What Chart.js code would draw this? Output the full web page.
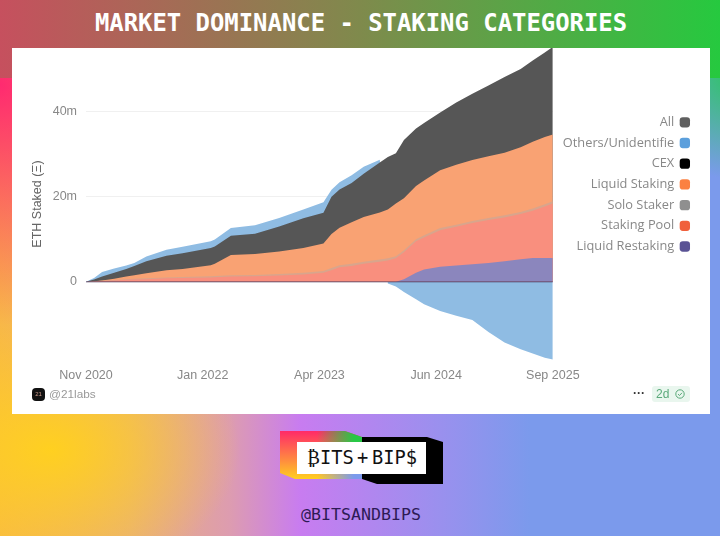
<!DOCTYPE html>
<html>
<head>
<meta charset="utf-8">
<title>Market Dominance - Staking Categories</title>
<script src="https://cdn.jsdelivr.net/npm/chart.js@4"></script>
<style>
html, body { margin: 0; padding: 0; }
body {
  position: relative; width: 720px; height: 536px; overflow: hidden;
  background:
    radial-gradient(circle at 740px 70px, #28c85a 0, rgba(40,200,90,0) 110px),
    radial-gradient(circle at 0 85px, #ff2a70 0, rgba(255,42,112,0) 240px),
    radial-gradient(ellipse 190px 130px at 50px 450px, #ffd020 0, rgba(255,208,32,0) 100%),
    linear-gradient(90deg, #f8b848 0, #eab078 130px, #dd9cb0 230px, #c87cf0 300px, #9a90ee 440px, #7b9aec 530px);
}
#band { position: absolute; left: 0; top: 0; width: 720px; height: 78px;
  background: linear-gradient(90deg, #c6505e 0, #7f8a4c 50%, #26c93f 100%); }
#title { position: absolute; left: 0; top: 9px; width: 722px; text-align: center; color: #fff;
  font: bold 23.9px "DejaVu Sans Mono", monospace; }
#card { position: absolute; left: 12px; top: 48px; width: 698px; height: 366px; background: #fff; }
#pie { position: absolute; left: 0; top: 0; }
#src { position: absolute; left: 37px; top: 339px; font: 11.8px "Liberation Sans", sans-serif; color: #999; }
#srcicon { position: absolute; left: 20px; top: 340px; width: 13px; height: 13px; border-radius: 4px; background: #111;
  color: #c98; font: 6px "Liberation Sans", sans-serif; text-align: center; line-height: 13px; }
#dots { position: absolute; left: 621px; top: 338px; font: bold 12px "Liberation Sans", sans-serif; color: #333; }
#badge { position: absolute; left: 640px; top: 338px; width: 38px; height: 16px; border-radius: 3px; background: #e9f6ee;
  color: #5aa97a; font: 12px "Liberation Sans", sans-serif; line-height: 16px; text-indent: 4px; }
#badge svg { position: absolute; left: 23px; top: 3px; }
#logoleft { position: absolute; left: 280px; top: 431px; width: 82px; height: 48px;
  clip-path: polygon(0 0, 65px 0, 82px 6px, 82px 48px, 15px 48px, 0 42px);
  background:
    linear-gradient(90deg, rgba(40,200,70,0) 45%, #28c846 90%) 0 0 / 100% 12px no-repeat,
    linear-gradient(90deg, rgba(123,154,236,0) 45%, #7b9aec 90%) 0 100% / 100% 10px no-repeat,
    linear-gradient(180deg, #ff2a68 0, #ff8a40 60%, #ffd020 100%); }
#logoright { position: absolute; left: 362px; top: 437px; width: 81px; height: 47px; background: #000;
  clip-path: polygon(0 0, 65px 0, 81px 5px, 81px 47px, 15px 47px, 0 42px); }
#logobox { position: absolute; left: 297px; top: 442px; width: 129px; height: 32px; background: #fff;
  color: #111; font: 18.7px/32px "DejaVu Sans Mono", monospace; }
#logobox span { position: absolute; top: 0; }
#handle { position: absolute; left: 0; top: 505px; width: 722px; text-align: center; color: #2d1a55;
  font: 16.6px "DejaVu Sans Mono", monospace; }
</style>
</head>
<body>
<div id="band"></div>
<div id="title">MARKET DOMINANCE - STAKING CATEGORIES</div>
<div id="card">
  <div id="canvas-wrapper"></div>
  <div id="srcicon">21</div>
  <div id="src">@21labs</div>
  <div id="dots">···</div>
  <div id="badge">2d<svg width="10" height="10" viewBox="0 0 10 10"><circle cx="5" cy="5" r="4.2" fill="none" stroke="#5aa97a" stroke-width="1"/><path d="M3 5.1 L4.5 6.5 L7 3.8" fill="none" stroke="#5aa97a" stroke-width="1"/></svg></div>
</div>
<div id="logoleft"></div>
<div id="logoright"></div>
<div id="logobox"><span style="left:10px">₿ITS</span><span style="left:60px">+</span><span style="left:75px">BIP$</span></div>
<div id="handle">@BITSANDBIPS</div>
<script>
// months since Nov 2020, values in millions of ETH (top edge of each area)
const months = [0, 1, 2, 3.5, 5, 6, 7.5, 10, 12, 15.5, 16, 18, 21, 24, 27, 29.5, 30.5, 31.5, 33, 34.5, 36.5, 37.5, 38.5, 39.5, 41, 42, 44, 46, 48, 50, 52, 54, 55.5, 57, 58];
const allStaked = [0, 0.5, 1.2, 2.1, 3, 3.7, 4.8, 6.1, 6.7, 7.9, 8.3, 10.8, 11.3, 13, 14.9, 16.2, 20, 21.7, 23.2, 25.4, 28, 29.3, 30.2, 33.3, 36, 37.3, 39.8, 42.1, 44.2, 46.1, 48.1, 50, 52, 53.9, 55.2];
const others = [0, 0.9, 2.3, 3.1, 3.8, 4.4, 5.9, 7.5, 8.2, 9.5, 9.9, 12.6, 13.3, 15, 17, 18.7, 21.6, 23.4, 25, 27, 28.7, -0.4, -1.1, -2.4, -4.1, -5.3, -6.9, -8, -9, -11.8, -14.3, -15.9, -16.9, -17.9, -18.3];
const cex = [0, 0, 0, 0, 0, 0, 0, 0, 0, 0, 0, 0, 0, 0, 0, 0, 0, 0, 0, 0, 0, 0, 0, 0, 0, 0, 0, 0, 0, 0, 0, 0, 0, 0, 0];
const liquidStaking = [0, 0.1, 0.3, 0.7, 1.2, 1.5, 2, 2.7, 3, 3.9, 4.2, 6.3, 6.5, 7.1, 7.9, 9, 11.2, 12.7, 14, 15.2, 16.3, 17, 18.4, 19.6, 22.5, 23.8, 26.2, 27.5, 28.6, 29.5, 30.3, 31.6, 32.9, 34, 34.6];
const soloStaker = [0, 0.1, 0.2, 0.4, 0.6, 0.7, 0.8, 1, 1.1, 1.3, 1.35, 1.5, 1.6, 1.8, 2.1, 2.5, 3.2, 3.9, 4.2, 4.7, 5.2, 5.5, 6, 7.4, 10, 10.9, 12.6, 13.4, 14.3, 15, 15.6, 16.4, 17.2, 18.2, 18.9];
const stakingPool = [0, 0.05, 0.15, 0.3, 0.45, 0.5, 0.6, 0.8, 0.85, 1, 1.05, 1.2, 1.3, 1.45, 1.7, 2.1, 2.7, 3.4, 3.7, 4.2, 4.7, 5, 5.5, 6.9, 9.5, 10.4, 12.1, 12.9, 13.8, 14.5, 15.1, 15.9, 16.7, 17.7, 18.4];
const liquidRestaking = [0, 0, 0, 0, 0, 0, 0, 0, 0, 0, 0, 0, 0, 0, 0, 0, 0, 0, 0, 0, 0, 0, 0, 0.6, 2.1, 2.9, 3.5, 3.8, 4.1, 4.4, 4.8, 5.3, 5.6, 5.6, 5.6];

const seriesNames = ["All", "Others/Unidentifie", "CEX", "Liquid Staking", "Solo Staker", "Staking Pool", "Liquid Restaking"];
const legendColors = ["#5f5f5f", "#5b9fdc", "#000000", "#fb8142", "#8f8f8f", "#f0603c", "#5a5395"];
const tickMonths = [0, 14.5, 29, 43.5, 58];
const tickLabels = ["Nov 2020", "Jan 2022", "Apr 2023", "Jun 2024", "Sep 2025"];
const yTicks = [0, 20, 40];

const canvasWrapper = document.getElementById("canvas-wrapper");
const canvas = document.createElement("canvas");
canvas.id = "pie";
canvas.width = 698;
canvas.height = 366;
canvasWrapper.append(canvas);

function toPoints(values) {
  return values.map((v, i) => ({ x: months[i], y: v }));
}

function area(index, values, color, order) {
  return {
    label: seriesNames[index],
    data: toPoints(values),
    backgroundColor: color,
    borderWidth: 0,
    fill: "origin",
    pointRadius: 0,
    tension: 0,
    order: order
  };
}

const labelFont = { family: "'Liberation Sans', sans-serif", size: 12.5 };

const baseline = area(2, cex, "rgba(0,0,0,0)", 0);
baseline.borderWidth = 1.5;
baseline.borderColor = "rgba(70,50,90,0.5)";

const config = {
  type: "line",
  data: {
    datasets: [
      area(0, allStaked, "#565656", 6),
      area(1, others, "#8fbce3", 7),
      baseline,
      area(3, liquidStaking, "#f9a273", 5),
      area(4, soloStaker, "#d9a58c", 4),
      area(5, stakingPool, "#f98f7e", 3),
      area(6, liquidRestaking, "#8b86bd", 2)
    ]
  },
  options: {
    responsive: false,
    animation: false,
    layout: { padding: { right: 13 } },
    scales: {
      x: {
        type: "linear",
        min: 0,
        max: 58,
        grid: { display: false },
        border: { display: false },
        afterFit: (scale) => { scale.height = 54; scale.paddingLeft = 0; scale.paddingRight = 0; },
        afterBuildTicks: (scale) => { scale.ticks = tickMonths.map((v) => ({ value: v })); },
        ticks: {
          autoSkip: false,
          maxRotation: 0,
          padding: 0,
          color: "#888",
          font: labelFont,
          callback: (v) => tickLabels[tickMonths.indexOf(v)]
        }
      },
      y: {
        min: -18.4,
        max: 54.94,
        border: { display: false },
        grid: { color: "#f0f0f0", drawTicks: false },
        afterFit: (scale) => { scale.width = 74; scale.paddingTop = 0; scale.paddingBottom = 0; },
        afterBuildTicks: (scale) => { scale.ticks = yTicks.map((v) => ({ value: v })); },
        title: {
          display: true,
          text: "ETH Staked (Ξ)",
          color: "#666",
          font: labelFont,
          padding: { top: 18, bottom: 0 }
        },
        ticks: {
          padding: 9,
          color: "#888",
          font: labelFont,
          callback: (v) => (v === 0 ? "0" : v + "m")
        }
      }
    },
    plugins: {
      tooltip: { enabled: false },
      legend: {
        position: "right",
        align: "start",
        rtl: true,
        title: { display: true, text: " ", font: { size: 10 }, padding: { top: 48, bottom: 0 } },
        labels: {
          color: "#888",
          font: { family: "'Open Sans', sans-serif", size: 12.8 },
          boxWidth: 8.5,
          boxHeight: 8.5,
          padding: 7.9,
          usePointStyle: true,
          pointStyle: "rectRounded",
          generateLabels: () => seriesNames.map((name, i) => ({
            text: name,
            fillStyle: legendColors[i],
            strokeStyle: legendColors[i],
            fontColor: "#888",
            lineWidth: 0,
            pointStyle: "rectRounded",
            datasetIndex: i
          }))
        }
      }
    }
  }
};

const chart = new Chart(canvas, config);
</script>
</body>
</html>
